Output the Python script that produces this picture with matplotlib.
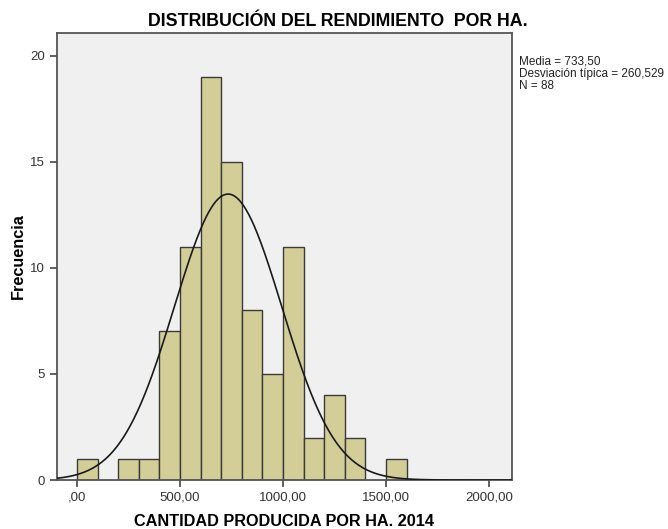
import numpy as np
import matplotlib
matplotlib.use("Agg")
import matplotlib.pyplot as plt

plt.rcParams['font.family'] = ['Liberation Sans', 'DejaVu Sans']

# histogram bins (left edges, width 100) and counts
bin_left = [0, 100, 200, 300, 400, 500, 600, 700, 800, 900, 1000, 1100, 1200, 1300, 1400, 1500]
counts = [1, 0, 1, 1, 7, 11, 19, 15, 8, 5, 11, 2, 4, 2, 0, 1]
bin_width = 100

media = 733.50
desv = 260.529
n = 88

xticks = [0, 500, 1000, 1500, 2000]
xtick_labels = [",00", "500,00", "1000,00", "1500,00", "2000,00"]
yticks = [0, 5, 10, 15, 20]

fig = plt.figure(figsize=(6.68, 5.29), dpi=100)
ax = fig.add_axes([0.085, 0.0926, 0.681, 0.8456])
ax.set_facecolor('#f0f0f0')

for left, c in zip(bin_left, counts):
    if c > 0:
        ax.bar(left, c, width=bin_width, align='edge', color='#d3ce97',
               edgecolor='#3a3a3a', linewidth=1.0, zorder=2)

xs = np.linspace(-100, 2110, 500)
curve = n * bin_width / (desv * np.sqrt(2 * np.pi)) * np.exp(-0.5 * ((xs - media) / desv) ** 2)
ax.plot(xs, curve, color='#1a1a1a', linewidth=1.2, zorder=3)

ax.set_xlim(-98, 2110)
ax.set_ylim(0, 21.08)
ax.set_xticks(xticks)
ax.set_xticklabels(xtick_labels)
ax.set_yticks(yticks)
ax.tick_params(direction='out', length=5, width=1.2, color='#444444',
               labelcolor='#333333', labelsize=9.5)
for s in ax.spines.values():
    s.set_color('#555555')
    s.set_linewidth(1.3)

fig.text(338 / 668, 1 - 21 / 529, "DISTRIBUCIÓN DEL RENDIMIENTO  POR HA.",
         fontsize=12.8, fontweight='bold', ha='center', va='center')
ax.set_xlabel("CANTIDAD PRODUCIDA POR HA. 2014", fontsize=11.7,
              fontweight='bold', labelpad=7)
ax.set_ylabel("Frecuencia", fontsize=11.7, fontweight='bold', labelpad=3)

fig.text(519 / 668, 1 - 56 / 529,
         "Media = 733,50\nDesviación típica = 260,529\nN = 88",
         fontsize=8.5, va='top', ha='left', color='#222222', linespacing=0.98)

fig.savefig("out.png", dpi=100)
